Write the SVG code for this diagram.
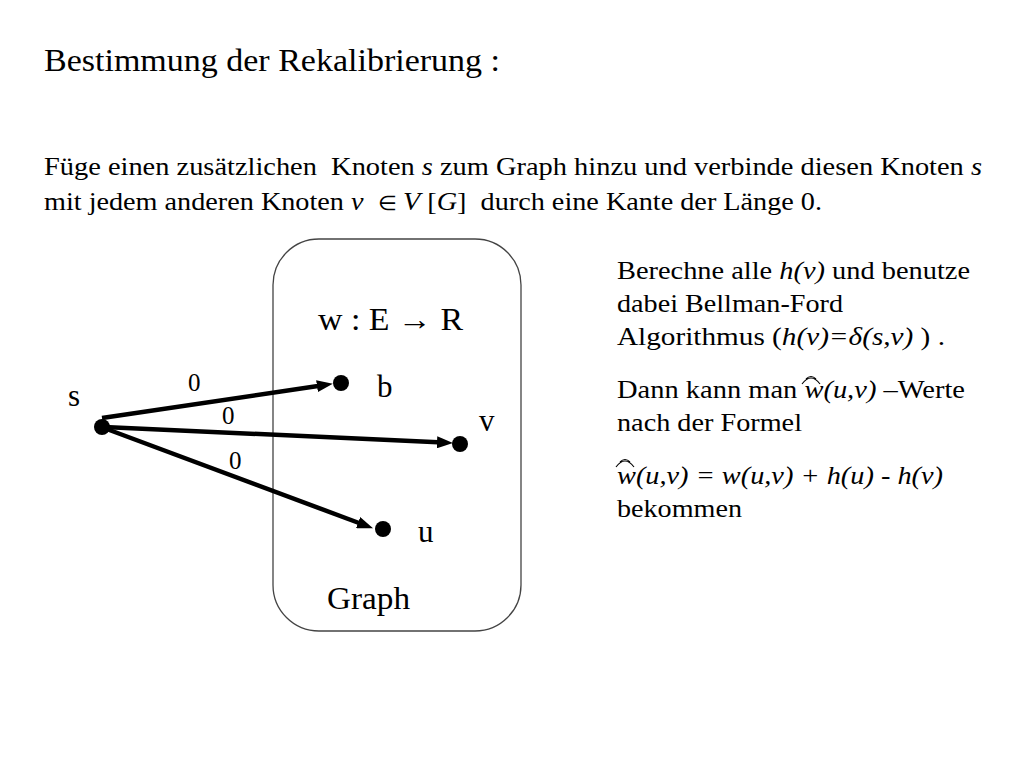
<svg xmlns="http://www.w3.org/2000/svg" width="1024" height="768" viewBox="0 0 1024 768">
<style>
text{font-family:"Liberation Serif","Times New Roman",serif;fill:#000}
.t{font-size:32px}
.p{font-size:26px}
.r{font-size:26px}
.lbl{font-size:31px}
.e{font-size:25px}
.i{font-style:italic}
.sm{font-size:20px}
.edge{stroke:#000;stroke-width:4.5;fill:none;marker-end:url(#ah)}
.dot{fill:#000}
.hat{fill:none;stroke:#000;stroke-width:1.1}
</style>
<defs>
<marker id="ah" markerWidth="16" markerHeight="12" refX="1" refY="6" orient="auto" markerUnits="userSpaceOnUse" viewBox="0 0 16 12">
<path d="M0,0 L16,6 L0,12 Z" fill="#000"/>
</marker>
</defs>
<rect width="1024" height="768" fill="#fff"/>
<text class="t" x="44" y="71" textLength="456" lengthAdjust="spacingAndGlyphs">Bestimmung der Rekalibrierung :</text>
<text class="p" x="44" y="175" textLength="938" lengthAdjust="spacingAndGlyphs">Füge einen zusätzlichen&#160; Knoten <tspan class="i">s</tspan> zum Graph hinzu und verbinde diesen Knoten <tspan class="i">s</tspan></text>
<text class="p" x="44" y="210" textLength="778" lengthAdjust="spacingAndGlyphs">mit jedem anderen Knoten <tspan class="i">v</tspan>&#160; <tspan class="sm">∈</tspan> <tspan class="i">V</tspan> [<tspan class="i">G</tspan>]&#160; durch eine Kante der Länge 0.</text>
<g id="graph">
<rect x="273" y="239" width="248" height="392" rx="46" ry="46" fill="none" stroke="#444" stroke-width="1.3"/>
<text class="lbl" x="318" y="330" textLength="145" lengthAdjust="spacingAndGlyphs">w : E → R</text>
<text class="lbl" x="327" y="609" textLength="83" lengthAdjust="spacingAndGlyphs">Graph</text>
</g>
<g id="connectors">
<line class="edge" x1="102" y1="418" x2="318" y2="386"/>
<line class="edge" x1="104" y1="427" x2="438" y2="442.3"/>
<line class="edge" x1="104" y1="428" x2="359" y2="523"/>
<text class="e" x="188" y="391">0</text>
<text class="e" x="222" y="424">0</text>
<text class="e" x="229" y="469">0</text>
</g>
<g id="node-s"><circle class="dot" cx="102" cy="427" r="8"/><text class="lbl" x="68" y="406">s</text></g>
<g id="node-b"><circle class="dot" cx="341" cy="383" r="8"/><text class="lbl" x="377" y="397">b</text></g>
<g id="node-v"><circle class="dot" cx="460" cy="444" r="8"/><text class="lbl" x="479" y="431">v</text></g>
<g id="node-u"><circle class="dot" cx="383" cy="529" r="8"/><text class="lbl" x="418" y="542">u</text></g>
<g id="notes">
<text class="r" x="617" y="279" textLength="353" lengthAdjust="spacingAndGlyphs">Berechne alle <tspan class="i">h(v)</tspan> und benutze</text>
<text class="r" x="617" y="312" textLength="226" lengthAdjust="spacingAndGlyphs">dabei Bellman-Ford</text>
<text class="r" x="617" y="345" textLength="328" lengthAdjust="spacingAndGlyphs">Algorithmus (<tspan class="i">h(v)=δ(s,v)</tspan> ) .</text>
<text class="r" x="617" y="398" textLength="348" lengthAdjust="spacingAndGlyphs">Dann kann man <tspan class="i">w(u,v)</tspan> –Werte</text>
<text class="r" x="617" y="431" textLength="185" lengthAdjust="spacingAndGlyphs">nach der Formel</text>
<text class="r" x="617" y="484" textLength="326" lengthAdjust="spacingAndGlyphs"><tspan class="i">w(u,v) = w(u,v) + h(u) - h(v)</tspan></text>
<text class="r" x="617" y="517" textLength="125" lengthAdjust="spacingAndGlyphs">bekommen</text>
<path class="hat" d="M802,384 Q811,372 820,384 M806,379 Q811,374 816,379"/>
<path class="hat" d="M616,467 Q625,455 634,467 M620,462 Q625,457 630,462"/>
</g>
</svg>
